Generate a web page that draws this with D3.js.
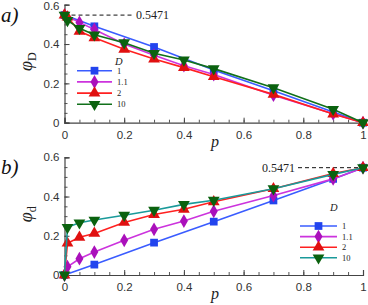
<!DOCTYPE html>
<html>
<head>
<meta charset="utf-8">
<script src="https://cdn.jsdelivr.net/npm/d3@7"></script>
<style>
  body { margin: 0; background: #fff; }
  svg { display: block; }
</style>
</head>
<body>
<div id="chart"></div>
<script>
var svgWidth = 368;
var svgHeight = 305;

// data
var seriesNames = ["1", "1.1", "2", "10"];
var pA1 = [0, 0.1, 0.3, 0.5, 0.7, 0.9, 1];
var pA11 = [0, 0.05, 0.1, 0.2, 0.3, 0.4, 0.5, 0.7, 0.9, 1];
var pAll = [0, 0.01, 0.05, 0.1, 0.2, 0.3, 0.4, 0.5, 0.7, 0.9, 1];

var phiD_1 = [0.547, 0.49, 0.385, 0.268, 0.163, 0.055, 0];
var phiD_11 = [0.547, 0.51, 0.474, 0.40, 0.343, 0.29, 0.245, 0.14, 0.045, 0];
var phiD_2 = [0.547, 0.537, 0.465, 0.432, 0.373, 0.324, 0.28, 0.234, 0.144, 0.044, 0];
var phiD_10 = [0.547, 0.52, 0.48, 0.447, 0.407, 0.353, 0.319, 0.275, 0.178, 0.068, 0];

var phid_1 = [0, 0.053, 0.165, 0.272, 0.38, 0.49, 0.547];
var phid_11 = [0, 0.042, 0.083, 0.117, 0.177, 0.233, 0.275, 0.325, 0.405, 0.49, 0.547];
var phid_2 = [0, 0.162, 0.192, 0.212, 0.268, 0.308, 0.335, 0.373, 0.44, 0.517, 0.547];
var phid_10 = [0, 0.243, 0.266, 0.28, 0.305, 0.33, 0.36, 0.381, 0.44, 0.513, 0.547];

var refValue = 0.5471;
var xTicks = [0, 0.2, 0.4, 0.6, 0.8, 1];
var yTicks = [0, 0.2, 0.4, 0.6];

var lineColors = ["#3a5cff", "#cc33dd", "#ff2020", "#11701a"];
var markColors = ["#2244ee", "#aa10bb", "#e01010", "#0b620f"];
var markTypes = [d3.symbolSquare, d3.symbolDiamond, d3.symbolTriangle, "down"];

var panels = [
  { top: 4.7, bottom: 122.7, tag: "a)", label: "D", sets: [[pA1, phiD_1], [pA11, phiD_11], [pAll, phiD_2], [pAll, phiD_10]],
    lineCols: lineColors, legend: { x: 77, y: 70.7, dy: 11.2, dx: 35, tx: 115, ty: 64.5 } },
  { top: 157.3, bottom: 275, tag: "b)", label: "d", sets: [[pA1, phid_1], [pAll, phid_11], [pAll, phid_2], [pAll, phid_10]],
    lineCols: ["#3a5cff", "#cc33dd", "#ff2020", "#1a9a9a"], legend: { x: 300, y: 226, dy: 10.6, dx: 37, tx: 330, ty: 211 } }
];

var x0 = 64.5, x1 = 363;

var svg = d3.select("#chart")
  .append("svg")
  .attr("width", svgWidth)
  .attr("height", svgHeight);

function drawMark(g, i, cx, cy) {
  if (markTypes[i] === "down") {
    g.append("path")
      .attr("d", d3.symbol(d3.symbolTriangle).size(60)())
      .attr("transform", `translate(${cx},${cy}) rotate(180)`)
      .attr("fill", markColors[i]);
  } else {
    g.append("path")
      .attr("d", d3.symbol(markTypes[i]).size(markTypes[i] === d3.symbolDiamond ? 55 : 60)())
      .attr("transform", `translate(${cx},${cy})`)
      .attr("fill", markColors[i]);
  }
}

panels.forEach(function(pn, k) {
  var xScale = d3.scaleLinear().domain([0, 1]).range([x0, x1]);
  var yScale = d3.scaleLinear().domain([0, 0.6]).range([pn.bottom, pn.top]);

  var g = svg.append("g");

  // minor ticks
  var xMinor = d3.range(0, 1.0001, 0.05);
  var yMinor = d3.range(0, 0.6001, 0.05);
  g.append("g")
    .attr("transform", `translate(0,${pn.bottom})`)
    .call(d3.axisBottom(xScale).tickValues(xMinor).tickSize(-3).tickFormat(""))
    .call(a => a.select(".domain").remove())
    .selectAll("line").attr("stroke", "#555");
  g.append("g")
    .attr("transform", `translate(${x0},0)`)
    .call(d3.axisLeft(yScale).tickValues(yMinor).tickSize(-3).tickFormat(""))
    .call(a => a.select(".domain").remove())
    .selectAll("line").attr("stroke", "#555");

  var xAx = g.append("g")
    .attr("transform", `translate(0,${pn.bottom})`)
    .call(d3.axisBottom(xScale).tickValues(xTicks).tickSize(-5).tickPadding(8).tickFormat(d3.format("~g")));
  var yAx = g.append("g")
    .attr("transform", `translate(${x0},0)`)
    .call(d3.axisLeft(yScale).tickValues(yTicks).tickSize(-5).tickPadding(5).tickFormat(d3.format("~g")));
  [xAx, yAx].forEach(function(a) {
    a.select(".domain").attr("stroke", "#444").attr("stroke-width", 1.2);
    a.selectAll("line").attr("stroke", "#444");
    a.selectAll("text").attr("font-family", "Liberation Sans, Arial, sans-serif")
      .attr("font-size", "11.5px").attr("fill", "#333");
  });
  if (k === 0) {
    yAx.selectAll("text").filter(d => d === 0.6).attr("dy", "0.45em");
  }

  // dashed reference line
  if (k === 0) {
    g.append("line")
      .attr("x1", x0).attr("x2", 134)
      .attr("y1", yScale(refValue)).attr("y2", yScale(refValue))
      .attr("stroke", "#111").attr("stroke-dasharray", "4,3");
    g.append("text")
      .attr("x", 136).attr("y", yScale(refValue) + 4)
      .attr("font-family", "Liberation Serif, Times New Roman, serif")
      .attr("font-size", "12px").attr("fill", "#222")
      .text("0.5471");
  } else {
    g.append("line")
      .attr("x1", 298).attr("x2", x1)
      .attr("y1", yScale(refValue)).attr("y2", yScale(refValue))
      .attr("stroke", "#111").attr("stroke-dasharray", "4,3");
    g.append("text")
      .attr("x", 295).attr("y", yScale(refValue) + 4)
      .attr("text-anchor", "end")
      .attr("font-family", "Liberation Serif, Times New Roman, serif")
      .attr("font-size", "12px").attr("fill", "#222")
      .text("0.5471");
  }

  var line = d3.line().x(d => xScale(d[0])).y(d => yScale(d[1]));

  pn.sets.forEach(function(s, i) {
    var pts = s[0].map((p, j) => [p, s[1][j]]);
    g.append("path")
      .datum(pts)
      .attr("d", line)
      .attr("fill", "none")
      .attr("stroke", pn.lineCols[i])
      .attr("stroke-width", 1.6);
    pts.forEach(function(d) {
      drawMark(g, i, xScale(d[0]), yScale(d[1]));
    });
  });

  // legend
  var lg = pn.legend;
  g.append("text")
    .attr("x", lg.tx).attr("y", lg.ty)
    .attr("font-family", "Liberation Serif, Times New Roman, serif")
    .attr("font-style", "italic").attr("font-size", "10.5px").attr("fill", "#222")
    .text("D");
  seriesNames.forEach(function(name, i) {
    var ly = lg.y + i * lg.dy;
    g.append("line")
      .attr("x1", lg.x).attr("x2", lg.x + lg.dx)
      .attr("y1", ly).attr("y2", ly)
      .attr("stroke", pn.lineCols[i]).attr("stroke-width", 1.6);
    drawMark(g, i, lg.x + lg.dx / 2, ly);
    g.append("text")
      .attr("x", lg.x + lg.dx + 5).attr("y", ly + 3)
      .attr("font-family", "Liberation Serif, Times New Roman, serif")
      .attr("font-size", "8.5px").attr("fill", "#222")
      .text(name);
  });

  // axis titles
  var yl = g.append("text")
    .attr("transform", `translate(32,${(pn.top + pn.bottom) / 2 - 2}) rotate(-90)`)
    .attr("text-anchor", "middle")
    .attr("font-family", "Liberation Serif, Times New Roman, serif")
    .attr("fill", "#222");
  yl.append("tspan").attr("font-style", "italic").attr("font-size", "18px").text("φ");
  yl.append("tspan").attr("font-size", "12px").attr("dy", 4).text(pn.label);

  g.append("text")
    .attr("x", 215).attr("y", pn.bottom + 24)
    .attr("text-anchor", "middle")
    .attr("font-family", "Liberation Serif, Times New Roman, serif")
    .attr("font-style", "italic").attr("font-size", "16px").attr("fill", "#222")
    .text("p");

  g.append("text")
    .attr("x", 1).attr("y", pn.top + 17)
    .attr("font-family", "Liberation Serif, Times New Roman, serif")
    .attr("font-style", "italic").attr("font-size", "21px").attr("fill", "#111")
    .text(pn.tag);
});
</script>
</body>
</html>
